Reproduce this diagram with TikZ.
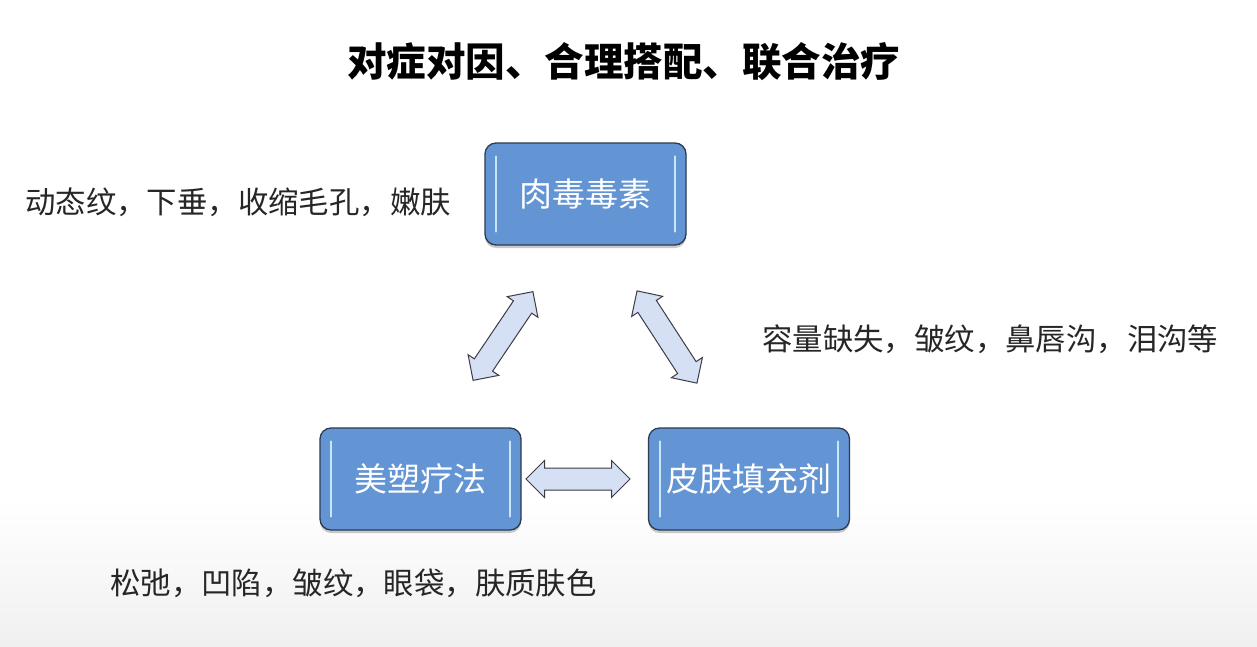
\documentclass[tikz,border=0pt]{standalone}
\usepackage{fontspec}
\setmainfont{Noto Sans CJK SC}
\usetikzlibrary{shapes.arrows,shadows}
\definecolor{boxblue}{RGB}{99,148,211}
\definecolor{boxedge}{RGB}{45,58,82}
\definecolor{arrowfill}{RGB}{214,224,244}
\definecolor{arrowedge}{RGB}{60,60,70}
\definecolor{hilite}{RGB}{200,230,250}
\definecolor{bggray}{RGB}{240,240,240}
\tikzset{
  boxnode/.style={draw=boxedge, line width=1.3pt, fill=boxblue, rounded corners=11pt,
    minimum width=201pt, minimum height=102pt, inner sep=0pt, text=white,
    font=\fontsize{33}{38}\selectfont,
    drop shadow={shadow xshift=0pt, shadow yshift=-3pt, opacity=0.35, fill=black!60}},
  fatarrow/.style={double arrow, draw=arrowedge, line width=1pt, fill=arrowfill,
    inner xsep=0pt, inner ysep=10.5pt, text height=0pt, text depth=0pt,
    double arrow head extend=7.5pt, double arrow tip angle=90},
  label/.style={anchor=west, inner sep=0pt, font=\fontsize{30.4}{36}\selectfont,
    text=black!85, text height=0.8em, text depth=0.1em},
  hl/.style={draw=hilite, line width=2pt, line cap=round}
}
\begin{document}
\begin{tikzpicture}[x=1pt,y=-1pt]
\useasboundingbox (0,0) rectangle (1257,646);
\fill[white] (0,0) rectangle (1257,646);
\shade[top color=white, bottom color=bggray] (0,500) rectangle (1257,646);

\node[inner sep=0pt, font=\fontsize{39.5}{44}\selectfont\bfseries, text height=0.8em, text depth=0.1em]
  (title) at (623.5,73) {对症对因、合理搭配、联合治疗};

\node[boxnode] (bt) at (585.5,194) {肉毒毒素};
\node[boxnode] (mes) at (420.5,479) {美塑疗法};
\node[boxnode] (fil) at (749,479) {皮肤填充剂};

\foreach \n in {bt,mes,fil}{
  \draw[hl] ([xshift=12pt,yshift=-14pt]\n.north west) -- ([xshift=12pt,yshift=14pt]\n.south west);
  \draw[hl] ([xshift=-12pt,yshift=-14pt]\n.north east) -- ([xshift=-12pt,yshift=14pt]\n.south east);
}

\node[fatarrow, minimum height=107pt, rotate=56] (a1) at (503,336) {};
\node[fatarrow, minimum height=110pt, rotate=-57] (a2) at (667,337) {};
\node[fatarrow, minimum height=104pt] (a3) at (578,479) {};

\node[label] (l1) at (25,210) {动态纹，下垂，收缩毛孔，嫩肤};
\node[label] (l2) at (762,347) {容量缺失，皱纹，鼻唇沟，泪沟等};
\node[label] (l3) at (110,591) {松弛，凹陷，皱纹，眼袋，肤质肤色};
\end{tikzpicture}
\end{document}
